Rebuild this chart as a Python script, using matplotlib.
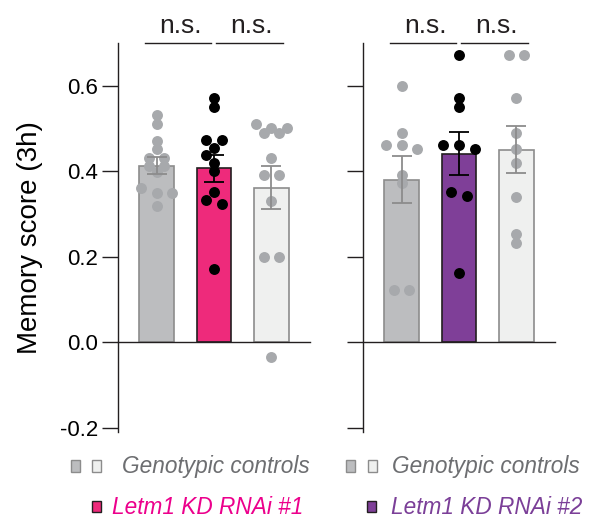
import numpy as np
import matplotlib
matplotlib.use('Agg')
import matplotlib.pyplot as plt
from matplotlib.patches import Rectangle

plt.rcParams['font.family'] = ['Liberation Sans', 'DejaVu Sans']

# --- data ---
# left experiment (RNAi #1)
left_ctrl1 = [0.531, 0.509, 0.470, 0.451, 0.431, 0.431, 0.412, 0.412, 0.398, 0.360, 0.349, 0.349, 0.319]
left_kd = [0.571, 0.551, 0.473, 0.473, 0.453, 0.437, 0.420, 0.400, 0.352, 0.332, 0.323, 0.170]
left_ctrl2 = [0.509, 0.500, 0.500, 0.490, 0.490, 0.430, 0.391, 0.391, 0.330, 0.200, 0.200, -0.036]
left_means = [0.412, 0.406, 0.361]
left_sem = [0.020, 0.032, 0.050]

# right experiment (RNAi #2)
right_ctrl1 = [0.600, 0.490, 0.461, 0.461, 0.451, 0.391, 0.371, 0.121, 0.121]
right_kd = [0.671, 0.571, 0.550, 0.461, 0.461, 0.451, 0.351, 0.342, 0.162]
right_ctrl2 = [0.671, 0.671, 0.570, 0.490, 0.451, 0.420, 0.340, 0.252, 0.232]
right_means = [0.380, 0.441, 0.450]
right_sem = [0.055, 0.050, 0.055]

GRAY = '#bcbdbf'
LIGHT = '#eff0ef'
PINK = '#ee2a7b'
PURPLE = '#7f3f98'
EDGE_GRAY = '#8c8c8c'
DOT_GRAY = '#a7a9ac'
DARK = '#231f20'

YMIN, YMAX = -0.21, 0.70
XMIN, XMAX = -0.67, 2.67


def swarm(vals, s=0.27, tol=0.012, d=8.0, ppx=57.5, ppy=427.5):
    # rows of near-equal values, centred; shift a row sideways if it bumps into earlier dots
    vals = sorted(vals, reverse=True)
    rows = []
    for v in vals:
        if rows and rows[-1][0] - v <= tol:
            rows[-1].append(v)
        else:
            rows.append([v])
    placed = []
    for row in rows:
        n = len(row)
        base = [(i - (n - 1) / 2) * s for i in range(n)]
        for shift in (0, -s / 2, s / 2, -s, s):
            cand = [b + shift for b in base]
            ok = all(np.hypot((cx - px) * ppx, (v - py) * ppy) >= d
                     for cx, v in zip(cand, row) for px, py in placed)
            if ok:
                break
        placed += list(zip(cand, row))
    return placed


def panel(ax, groups, means, sems, kd_color, show_labels):
    fills = [GRAY, kd_color, LIGHT]
    edges = [EDGE_GRAY, DARK, EDGE_GRAY]
    dots = [DOT_GRAY, 'black', DOT_GRAY]
    for i in range(3):
        ax.bar(i, means[i], width=0.6, color=fills[i], edgecolor=edges[i], linewidth=1.2, zorder=1)
        pts = swarm(groups[i])
        ax.scatter([i + p[0] for p in pts], [p[1] for p in pts], s=62, color=dots[i],
                   linewidths=0, zorder=2, clip_on=False)
        ax.errorbar(i, means[i], yerr=sems[i], fmt='none', ecolor=edges[i] if i != 1 else 'black',
                    elinewidth=1.3, capsize=7, capthick=1.3, zorder=3)

    ax.set_xlim(XMIN, XMAX)
    ax.set_ylim(YMIN, YMAX)
    ax.spines['top'].set_visible(False)
    ax.spines['right'].set_visible(False)
    ax.spines['bottom'].set_position(('data', 0))
    for sp in ('left', 'bottom'):
        ax.spines[sp].set_linewidth(1.0)
        ax.spines[sp].set_color(DARK)
    ax.set_xticks([])
    ax.set_yticks([-0.2, 0.0, 0.2, 0.4, 0.6])
    ax.set_yticklabels(['-0.2', '0.0', '0.2', '0.4', '0.6'])
    ax.tick_params(axis='y', length=11.5, width=1.0, color=DARK, pad=3, labelsize=16,
                   labelleft=show_labels)

    # significance brackets
    for (x0, x1, xt) in [(-0.2, 0.95, 0.41), (1.04, 2.2, 1.66)]:
        ax.plot([x0, x1], [0.699, 0.699], color=DARK, lw=1.0, clip_on=False)
        ax.text(xt, 0.723, 'n.s.', ha='center', va='baseline', fontsize=19, color=DARK, clip_on=False)


fig = plt.figure(figsize=(5.97, 5.19), dpi=100)
ax1 = fig.add_axes([118 / 597, 0.168, 192 / 597, 0.7495])
ax2 = fig.add_axes([363 / 597, 0.168, 192 / 597, 0.7495])

panel(ax1, [left_ctrl1, left_kd, left_ctrl2], left_means, left_sem, PINK, True)
panel(ax2, [right_ctrl1, right_kd, right_ctrl2], right_means, right_sem, PURPLE, False)

ax1.set_ylabel('Memory score (3h)', fontsize=20)
ax1.yaxis.set_label_coords(-0.39, 0.5)

# legend drawn by hand in figure pixels
W, H = 597, 519


def square(x0, x1, y0, y1, fc, ec):
    fig.add_artist(Rectangle((x0 / W, 1 - y1 / H), (x1 - x0) / W, (y1 - y0) / H,
                             facecolor=fc, edgecolor=ec, linewidth=1.0, transform=fig.transFigure))


square(71, 80, 460, 472, GRAY, EDGE_GRAY)
square(92, 101, 460, 472, LIGHT, EDGE_GRAY)
square(92, 101, 501, 512, PINK, DARK)
fig.text(122 / W, 1 - 466 / H, 'Genotypic controls', fontsize=16.3, style='italic', color='#6d6e71', va='center')
fig.text(112 / W, 1 - 507 / H, 'Letm1 KD RNAi #1', fontsize=16.3, style='italic', color='#ec008c', va='center')

square(346, 355, 460, 472, GRAY, EDGE_GRAY)
square(368, 377, 460, 472, LIGHT, EDGE_GRAY)
square(367, 376, 501, 512, PURPLE, DARK)
fig.text(392 / W, 1 - 466 / H, 'Genotypic controls', fontsize=16.3, style='italic', color='#6d6e71', va='center')
fig.text(391 / W, 1 - 507 / H, 'Letm1 KD RNAi #2', fontsize=16.3, style='italic', color='#7b3f98', va='center')

fig.savefig('out.png', dpi=100)
